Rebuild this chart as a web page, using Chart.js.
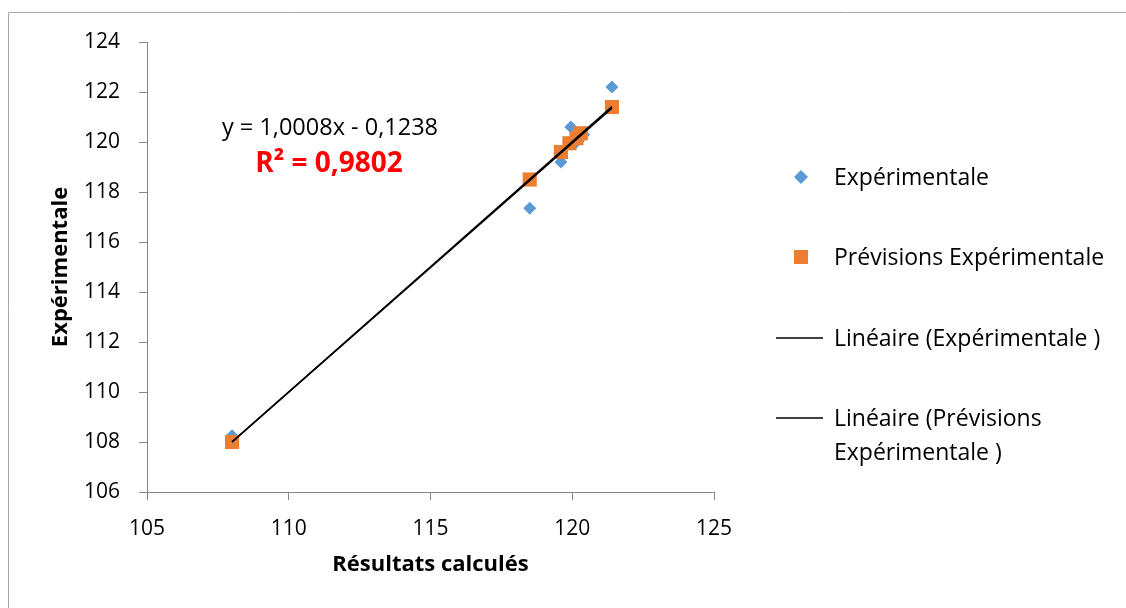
<!DOCTYPE html>
<html>
<head>
<meta charset="utf-8">
<script src="https://cdn.jsdelivr.net/npm/chart.js"></script>
<style>
  html, body { margin: 0; padding: 0; background: #fff; }
  canvas { display: block; }
</style>
</head>
<body>
<canvas id="mychart" width="1126" height="608"></canvas>
<script>
// data
var expX  = [108.0, 118.5, 119.6, 119.95, 120.1, 120.3, 120.4, 121.4];
var expY  = [108.25, 117.35, 119.2, 120.6, 119.95, 120.15, 120.3, 122.2];
var prevX = [108.0, 118.5, 119.6, 119.9, 120.15, 120.3, 121.4];
var prevY = [108.0, 118.5, 119.6, 119.95, 120.15, 120.35, 121.4];
var xRange = [105, 125, 5];
var yRange = [106, 124, 2];
var seriesNames = ['Expérimentale', 'Prévisions Expérimentale'];
var trendNames = [['Linéaire (Expérimentale )'], ['Linéaire (Prévisions', 'Expérimentale )']];
var equation = 'y = 1,0008x - 0,1238';
var rSquared = 'R² = 0,9802';

var blue = '#5B9BD5';
var orange = '#ED7D31';
var axisGray = '#868686';
var FONT = "'Open Sans', 'Noto Sans', sans-serif";

function toPoints(xs, ys) {
    return xs.map(function (x, i) { return { x: x, y: ys[i] }; });
}

// least squares line, from smallest to largest x
function trend(xs, ys) {
    var n = xs.length, sx = 0, sy = 0, sxx = 0, sxy = 0;
    for (var i = 0; i < n; i++) {
        sx += xs[i]; sy += ys[i];
        sxx += xs[i] * xs[i]; sxy += xs[i] * ys[i];
    }
    var a = (n * sxy - sx * sy) / (n * sxx - sx * sx);
    var b = (sy - a * sx) / n;
    var x0 = Math.min.apply(null, xs), x1 = Math.max.apply(null, xs);
    return [{ x: x0, y: a * x0 + b }, { x: x1, y: a * x1 + b }];
}

function marker(ctx, type, color, x, y) {
    ctx.save();
    ctx.fillStyle = color;
    ctx.beginPath();
    if (type === 'rectRot') {
        var r = 7;
        ctx.moveTo(x, y - r); ctx.lineTo(x + r, y); ctx.lineTo(x, y + r); ctx.lineTo(x - r, y);
        ctx.closePath();
    } else {
        ctx.rect(x - 7, y - 7, 14, 14);
    }
    ctx.fill();
    ctx.restore();
}

var decor = {
    id: 'decor',
    beforeDraw: function (chart) {
        var ctx = chart.ctx;
        ctx.save();
        ctx.fillStyle = '#fff';
        ctx.fillRect(0, 0, chart.width, chart.height);
        ctx.strokeStyle = '#a6a6a6';
        ctx.lineWidth = 1;
        ctx.beginPath();
        ctx.moveTo(8.5, chart.height + 2);
        ctx.lineTo(8.5, 12.5);
        ctx.lineTo(chart.width + 2, 12.5);
        ctx.stroke();
        ctx.restore();
    },
    afterDraw: function (chart) {
        var ctx = chart.ctx;
        ctx.save();
        // equation of the trend line
        ctx.textAlign = 'center';
        ctx.textBaseline = 'middle';
        ctx.fillStyle = '#000';
        ctx.font = '23.5px ' + FONT;
        ctx.fillText(equation, 330, 128);
        ctx.fillStyle = '#ff0000';
        ctx.font = 'bold 28px ' + FONT;
        ctx.fillText(rSquared, 329, 164);

        // legend
        var lx = 834;
        ctx.textAlign = 'left';
        ctx.fillStyle = '#000';
        ctx.font = '23px ' + FONT;
        marker(ctx, 'rectRot', blue, 801, 177);
        ctx.fillText(seriesNames[0], lx, 178);
        marker(ctx, 'rect', orange, 801, 257);
        ctx.fillText(seriesNames[1], lx, 258);
        var rows = [338, 418];
        ctx.strokeStyle = '#000';
        ctx.lineWidth = 1.3;
        trendNames.forEach(function (lines, k) {
            var y = rows[k];
            ctx.beginPath();
            ctx.moveTo(776, y);
            ctx.lineTo(823, y);
            ctx.stroke();
            lines.forEach(function (t, j) {
                ctx.fillText(t, lx, y + 1 + j * 34);
            });
        });
        ctx.restore();
    }
};

var ctx = document.getElementById('mychart').getContext('2d');
var myChart = new Chart(ctx, {
    type: 'scatter',
    data: {
        datasets: [{
            label: trendNames[0].join(' '),
            type: 'line',
            data: trend(expX, expY),
            borderColor: '#000',
            borderWidth: 1.6,
            pointRadius: 0,
            fill: false,
            order: 0
        }, {
            label: trendNames[1].join(' '),
            type: 'line',
            data: trend(prevX, prevY),
            borderColor: '#000',
            borderWidth: 1.6,
            pointRadius: 0,
            fill: false,
            order: 0
        }, {
            label: seriesNames[1],
            data: toPoints(prevX, prevY),
            pointStyle: 'rect',
            pointRadius: 10,
            pointHoverRadius: 10,
            backgroundColor: orange,
            borderColor: orange,
            borderWidth: 0,
            order: 1
        }, {
            label: seriesNames[0],
            data: toPoints(expX, expY),
            pointStyle: 'rectRot',
            pointRadius: 6.5,
            pointHoverRadius: 6.5,
            backgroundColor: blue,
            borderColor: blue,
            borderWidth: 0,
            order: 2
        }]
    },
    options: {
        responsive: false,
        animation: false,
        layout: { padding: { left: 0, top: 42, right: 412, bottom: 0 } },
        plugins: {
            legend: { display: false },
            tooltip: { enabled: false }
        },
        scales: {
            x: {
                type: 'linear',
                min: xRange[0], max: xRange[1],
                afterFit: function (s) { s.height = 116; },
                ticks: { stepSize: xRange[2], color: '#000', padding: 16, font: { family: FONT, size: 21 } },
                grid: { drawOnChartArea: false, drawTicks: true, tickLength: 8, color: axisGray },
                border: { color: axisGray, width: 1 },
                title: {
                    display: true, text: 'Résultats calculés', color: '#000',
                    font: { family: FONT, size: 22, weight: 'bold' },
                    padding: { top: 0, bottom: 30 }
                }
            },
            y: {
                min: yRange[0], max: yRange[1],
                afterFit: function (s) { s.width = 147; },
                ticks: { stepSize: yRange[2], color: '#000', padding: 19, font: { family: FONT, size: 21 } },
                grid: { drawOnChartArea: false, drawTicks: true, tickLength: 8, color: axisGray },
                border: { color: axisGray, width: 1 },
                title: {
                    display: true, text: 'Expérimentale', color: '#000',
                    font: { family: FONT, size: 22, weight: 'bold' },
                    padding: { top: 48, bottom: 0 }
                }
            }
        }
    },
    plugins: [decor]
});
</script>
</body>
</html>
